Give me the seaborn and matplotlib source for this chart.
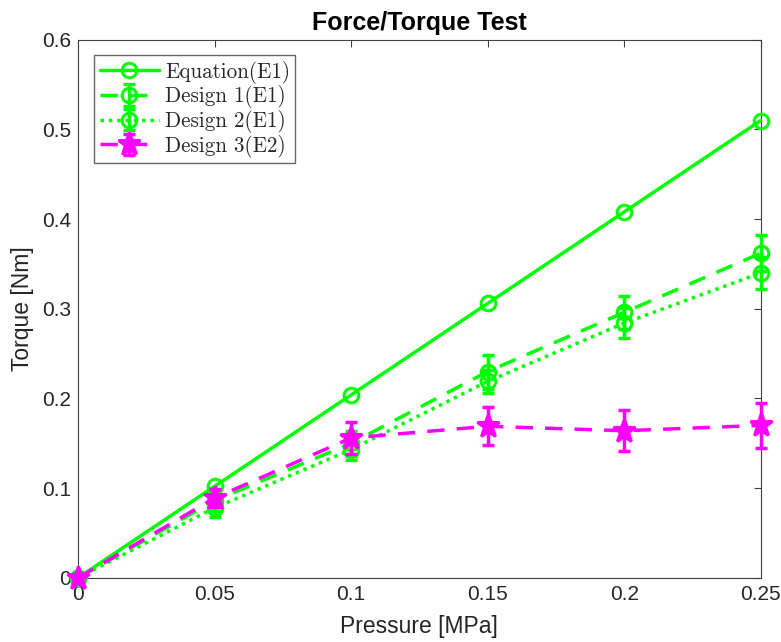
import matplotlib
matplotlib.use("Agg")
import matplotlib.pyplot as plt
import seaborn as sns
import pandas as pd
from matplotlib.ticker import FuncFormatter
from matplotlib.legend_handler import HandlerTuple

pressure = [0, 0.05, 0.1, 0.15, 0.2, 0.25]
equation_e1 = [0, 0.102, 0.204, 0.306, 0.408, 0.510]
design1_e1 = [0, 0.086, 0.150, 0.230, 0.296, 0.362]
design1_err = [0, 0.012, 0.014, 0.019, 0.018, 0.020]
design2_e1 = [0, 0.078, 0.143, 0.219, 0.284, 0.340]
design2_err = [0, 0.010, 0.012, 0.013, 0.017, 0.018]
design3_e2 = [0, 0.089, 0.156, 0.169, 0.164, 0.170]
design3_err = [0, 0.010, 0.018, 0.021, 0.023, 0.025]

labels = ["Equation(E1)", "Design 1(E1)", "Design 2(E1)", "Design 3(E2)"]
GREEN = "#00FF00"
MAGENTA = "#FF00FF"

sns.set_style("white")
plt.rcParams['font.family'] = ['Liberation Sans', 'DejaVu Sans']

fig = plt.figure(figsize=(7.81, 6.42), dpi=100)
ax = fig.add_axes([0.1, 0.1, 0.874, 0.838])

LW = 2.5
df = pd.DataFrame({"p": pressure, "t": equation_e1})
sns.lineplot(data=df, x="p", y="t", ax=ax, color=GREEN, lw=LW, marker="o",
             markersize=10.5, markerfacecolor="none", markeredgecolor=GREEN,
             markeredgewidth=2.2, legend=False, clip_on=False, zorder=3)
handles = [ax.lines[-1]]

specs = [
    (design1_e1, design1_err, GREEN, (0, (5, 3.5)), "o", 10.5, "none"),
    (design2_e1, design2_err, GREEN, (0, (1.0, 1.4)), "o", 10.5, "none"),
    (design3_e2, design3_err, MAGENTA, (0, (5, 3.5)), "*", 17, MAGENTA),
]
for y, e, c, ls, m, ms, mfc in specs:
    sns.lineplot(x=pressure, y=y, ax=ax, color=c, lw=LW, linestyle=ls, marker=m,
                 markersize=ms, markerfacecolor=mfc, markeredgecolor=c,
                 markeredgewidth=2.2, legend=False, clip_on=False, zorder=3)
    line = ax.lines[-1]
    eb = ax.errorbar(pressure, y, yerr=e, fmt="none", ecolor=c, elinewidth=LW,
                     capsize=4.5, capthick=LW, zorder=3)
    for art in eb.lines[1] + eb.lines[2]:
        art.set_clip_on(False)
    handles.append((eb, line))

ax.set_xlim(0, 0.25)
ax.set_ylim(0, 0.6)
ax.set_xticks(pressure)
ax.set_yticks([0, 0.1, 0.2, 0.3, 0.4, 0.5, 0.6])
fmt = FuncFormatter(lambda v, p: f"{v:g}")
ax.xaxis.set_major_formatter(fmt)
ax.yaxis.set_major_formatter(fmt)
ax.tick_params(direction="in", length=5, width=0.8, colors="#404040",
               labelsize=15, top=True, right=True, labelcolor="#262626", pad=5)
for s in ax.spines.values():
    s.set_visible(True)
    s.set_color("#404040")
    s.set_linewidth(0.8)

ax.set_xlabel("Pressure [MPa]", fontsize=16.5, color="#262626", labelpad=8)
ax.set_ylabel("Torque [Nm]", fontsize=16.5, color="#262626", labelpad=6)
ax.set_title("Force/Torque Test", fontsize=18, fontweight="bold", pad=7,
             color="#000000")

leg = ax.legend(handles=handles, labels=labels, loc="upper left",
                bbox_to_anchor=(0.024, 0.971),
                handler_map={tuple: HandlerTuple(ndivide=1)},
                prop={"family": ["cmr10", "DejaVu Serif"], "size": 15.2},
                frameon=True, fancybox=False, edgecolor="#404040",
                handlelength=2.8, borderpad=0.25, labelspacing=0.08,
                handletextpad=0.3, borderaxespad=0.0)
leg.get_frame().set_linewidth(1.0)

fig.savefig("out.png", dpi=100)
